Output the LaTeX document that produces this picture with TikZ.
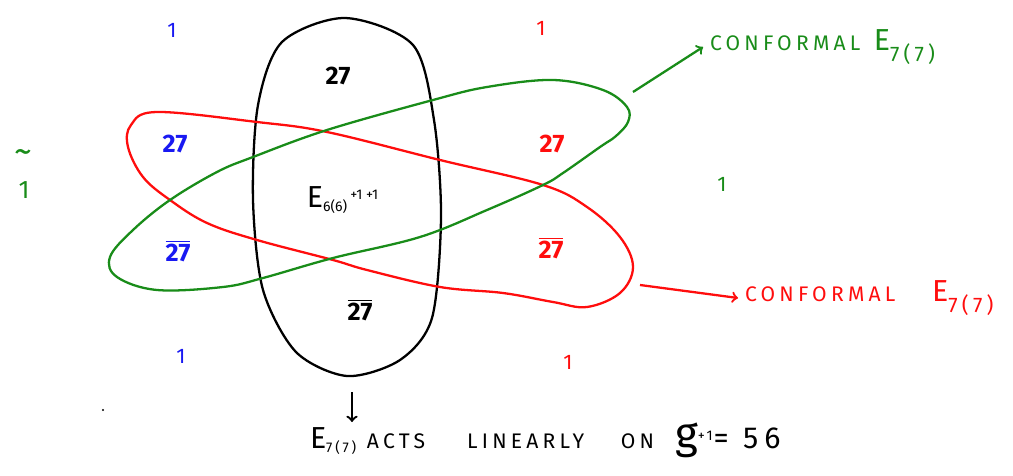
\documentclass[tikz,border=0pt]{standalone}
\usepackage{fontspec}
\setmainfont{Fira Sans}
\newfontfamily\handfont[LetterSpace=20]{Fira Sans}

\definecolor{penred}{rgb}{1,0.05,0.05}
\definecolor{pengreen}{rgb}{0.1,0.55,0.1}
\definecolor{penblue}{rgb}{0.1,0.1,0.95}

\tikzset{
  rep/.style={font=\Large\bfseries},
  one/.style={font=\large},
  word/.style={font=\handfont\large, anchor=west},
  loop/.style={smooth cycle, tension=0.6}
}

\begin{document}
\begin{tikzpicture}[x=0.02cm, y=-0.02cm, line width=1.3pt, line join=round]
  \useasboundingbox (0,0) rectangle (1013,476);

  % Black oval: grade decomposition of E7(7)
  \draw plot[smooth cycle] coordinates {(345,18) (413,45) (434,120) (441,217)
    (432,318) (400,360) (347,376) (296,352) (263,290) (253,200) (258,105) (282,42)};

  % Red loop
  \draw[penred] plot[loop] coordinates {(157,112) (257,122) (327,132) (440,160)
    (543,185) (587,207) (620,237) (633,267) (620,293) (587,307) (553,302)
    (503,293) (440,287) (367,270) (333,260) (257,240) (207,223) (170,200)
    (143,177) (128,147) (131,125)};

  % Green loop
  \draw[pengreen] plot[loop] coordinates {(110,257) (133,230) (170,200) (217,172)
    (253,157) (327,130) (433,100) (487,87) (553,80) (603,90) (627,107)
    (628,122) (616,136) (600,147) (563,173) (543,185) (487,210) (420,237)
    (333,258) (263,278) (223,287) (157,290) (117,277)};

  % Singlets in the corners
  \node[one, penblue] (oneTL) at (172,30) {1};
  \node[one, penred] (oneTR) at (541,28) {1};
  \node[one, penblue] (oneBL) at (181,356) {1};
  \node[one, penred] (oneBR) at (568,362) {1};
  \node[one, pengreen] (oneR) at (722,184) {1};
  \node[pengreen, font=\huge, inner sep=0pt] (tildeMark) at (23,157) {\textasciitilde};
  \node[pengreen, font=\Large, inner sep=0pt] (oneTilde) at (24,190) {1};

  % Representations
  \node[rep] (topRep) at (338,76) {27};
  \node[rep] (botRep) at (360,310) {\(\overline{\mbox{27}}\)};
  \node[rep, penblue] (blueRep) at (175,144) {27};
  \node[rep, penblue] (blueBar) at (178,251) {\(\overline{\mbox{27}}\)};
  \node[rep, penred] (redRep) at (552,144) {27};
  \node[rep, penred] (redBar) at (551,248) {\(\overline{\mbox{27}}\)};
  \node[font=\large] (center) at (343,200)
    {{\LARGE E}\textsubscript{6(6)}\textsuperscript{\,+1 +1}};

  % Conformal arrows
  \coordinate (gStart) at (633,92);
  \node[word, pengreen] (confG) at (703,47) {CONFORMAL\, {\LARGE E}\textsubscript{\large 7(7)}};
  \draw[pengreen, ->] (gStart) -- (confG.west);

  \coordinate (rStart) at (640,285);
  \node[word, penred] (confR) at (738,298) {CONFORMAL\quad\; {\LARGE E}\textsubscript{\large 7(7)}};
  \draw[penred, ->] (rStart) -- (confR.west);

  % Bottom statement
  \coordinate (dTop) at (352,392);
  \coordinate (dEnd) at (352,422);
  \draw[->] (dTop) -- (dEnd);
  \node[font=\handfont\large, anchor=west] (acts) at (303,440)
    {{\LARGE E}\textsubscript{7(7)} ACTS\qquad LINEARLY\quad\; ON\quad
     {\Huge g}\textsuperscript{+1}{\LARGE = 56}};

  \fill (103,410) circle (1.2);
\end{tikzpicture}
\end{document}
